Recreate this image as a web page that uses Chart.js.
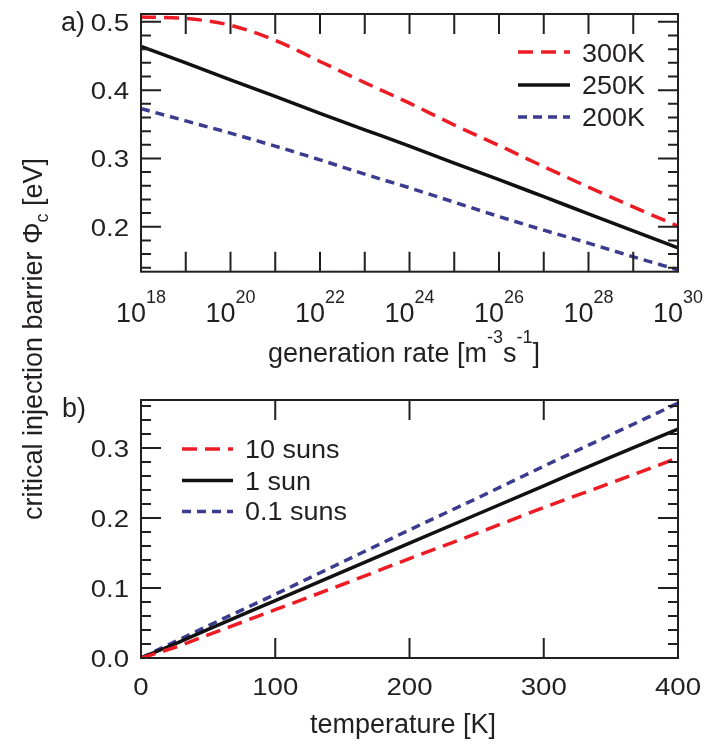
<!DOCTYPE html>
<html>
<head>
<meta charset="utf-8">
<script src="https://cdn.jsdelivr.net/npm/chart.js@4.4.1/dist/chart.umd.min.js"></script>
<style>
  html, body { margin: 0; padding: 0; background: #fff; }
  #wrap { position: relative; width: 705px; height: 749px; }
  canvas { position: absolute; left: 0; top: 0; }
</style>
</head>
<body>
<div id="wrap">
  <canvas id="chartA" width="705" height="749"></canvas>
  <canvas id="chartB" width="705" height="749"></canvas>
</div>
<script>
// --- panel a) data: barrier vs generation rate ---
const genRate = [1e18, 1e19, 1e20, 1e21, 1e22, 1e23, 1e24, 1e25, 1e26, 1e27, 1e28, 1e29, 1e30];
const phi300K = [0.507, 0.505, 0.495, 0.473, 0.442, 0.411, 0.381, 0.349, 0.319, 0.288, 0.258, 0.229, 0.201];
const phi250K = [0.464, 0.440, 0.415, 0.391, 0.366, 0.342, 0.318, 0.293, 0.269, 0.244, 0.219, 0.194, 0.169];
const phi200K = [0.373, 0.355, 0.337, 0.318, 0.298, 0.277, 0.257, 0.236, 0.215, 0.195, 0.176, 0.156, 0.137];
const genTickExp = [18, 19, 20, 21, 22, 23, 24, 25, 26, 27, 28, 29, 30];
const genLabelExp = [18, 20, 22, 24, 26, 28, 30];
const yLabelsA = [0.2, 0.3, 0.4, 0.5];

// --- panel b) data: barrier vs temperature ---
const temperature = [0, 25, 50, 100, 150, 200, 250, 300, 350, 400];
const phi10suns = [0, 0.015, 0.033, 0.069, 0.105, 0.142, 0.178, 0.215, 0.250, 0.286];
const phi1sun = [0, 0.020, 0.041, 0.082, 0.123, 0.164, 0.205, 0.246, 0.287, 0.327];
const phi01suns = [0, 0.023, 0.046, 0.091, 0.137, 0.183, 0.228, 0.274, 0.319, 0.364];
const tempTicks = [0, 100, 200, 300, 400];
const yLabelsB = [0.0, 0.1, 0.2, 0.3];

const FONT = '"Liberation Sans", Arial, Helvetica, sans-serif';
const INK = '#231f20';
const RED = '#ed1c24';
const BLUE = '#3b3b8f';
const BLACK = '#111111';

// text with optional horizontal stretch
function drawText(ctx, s, x, y, size, align, sx) {
  sx = sx || 1;
  ctx.font = size + 'px ' + FONT;
  const w = ctx.measureText(s).width * sx;
  const x0 = align === 'center' ? x - w / 2 : (align === 'right' ? x - w : x);
  ctx.save();
  ctx.translate(x0, y);
  ctx.scale(sx, 1);
  ctx.textAlign = 'left';
  ctx.textBaseline = 'alphabetic';
  ctx.fillText(s, 0, 0);
  ctx.restore();
  return w;
}

// parts: [text, kind]  kind: 0 normal, 1 sup, 2 sub
function drawRich(ctx, parts, x, y, size, smallSize, rise, drop, align) {
  let total = 0;
  parts.forEach(p => {
    ctx.font = (p[1] ? smallSize : size) + 'px ' + FONT;
    total += ctx.measureText(p[0]).width;
  });
  let cx = align === 'center' ? x - total / 2 : x;
  ctx.textAlign = 'left';
  ctx.textBaseline = 'alphabetic';
  parts.forEach(p => {
    ctx.font = (p[1] ? smallSize : size) + 'px ' + FONT;
    const yy = p[1] === 1 ? y - rise : (p[1] === 2 ? y + drop : y);
    ctx.fillText(p[0], cx, yy);
    cx += ctx.measureText(p[0]).width;
  });
}

function frameAndTicks(chart, xTicks, xLen, yMin, yMax, yStep, yMajorEvery) {
  const ctx = chart.ctx, a = chart.chartArea;
  const xs = chart.scales.x, ys = chart.scales.y;
  ctx.save();
  ctx.strokeStyle = INK;
  ctx.lineWidth = 2;
  ctx.strokeRect(a.left, a.top, a.right - a.left, a.bottom - a.top);
  ctx.beginPath();
  xTicks.forEach(v => {
    const px = xs.getPixelForValue(v);
    ctx.moveTo(px, a.bottom); ctx.lineTo(px, a.bottom - xLen);
    ctx.moveTo(px, a.top); ctx.lineTo(px, a.top + xLen);
  });
  const n = Math.round((yMax - yMin) / yStep);
  for (let i = 0; i <= n; i++) {
    const v = yMin + i * yStep;
    const py = ys.getPixelForValue(v);
    const len = (Math.round(v / yStep) % yMajorEvery === 0) ? 20 : 10;
    ctx.moveTo(a.left, py); ctx.lineTo(a.left + len, py);
    ctx.moveTo(a.right, py); ctx.lineTo(a.right - len, py);
  }
  ctx.stroke();
  ctx.restore();
}

function drawLegend(chart, lx1, lx2, tx, rows, baselines, size, sx) {
  const ctx = chart.ctx;
  chart.data.datasets.forEach((ds, i) => {
    ctx.save();
    ctx.strokeStyle = ds.borderColor;
    ctx.lineWidth = ds.borderWidth;
    ctx.setLineDash(ds.borderDash || []);
    ctx.beginPath();
    ctx.moveTo(lx1, rows[i]); ctx.lineTo(lx2, rows[i]);
    ctx.stroke();
    ctx.restore();
    ctx.fillStyle = INK;
    drawText(ctx, ds.label, tx, baselines[i], size, 'left', sx);
  });
}

const decorA = {
  id: 'decorA',
  afterDatasetsDraw(chart) {
    const ctx = chart.ctx, a = chart.chartArea;
    const xs = chart.scales.x, ys = chart.scales.y;
    frameAndTicks(chart, genTickExp.map(e => Number('1e' + e)), 20, 0.14, 0.50, 0.02, 5);
    ctx.fillStyle = INK;
    yLabelsA.forEach(v => {
      drawText(ctx, v.toFixed(1), 129, ys.getPixelForValue(v) + 9, 24, 'right', 1.15);
    });
    genLabelExp.forEach(e => {
      const px = xs.getPixelForValue(Number('1e' + e));
      drawRich(ctx, [['10', 0], [String(e), 1]], px, a.bottom + 50, 27, 18, 19, 0, 'center');
    });
    drawRich(ctx, [['generation rate [m', 0], ['-3', 1], ['s', 0], ['-1', 1], [']', 0]],
      404, 362, 27, 18, 19, 0, 'center');
    drawText(ctx, 'a)', 61, 31, 27, 'left');
    drawLegend(chart, 518, 570, 582, [52, 85, 117], [61.5, 94, 126], 25, 1.08);
    // shared y-axis title
    ctx.save();
    ctx.translate(42, 339);
    ctx.rotate(-Math.PI / 2);
    drawRich(ctx, [['critical injection barrier \u03A6', 0], ['c', 2], [' [eV]', 0]],
      0, 0, 27, 18, 0, 6, 'center');
    ctx.restore();
  }
};

const decorB = {
  id: 'decorB',
  afterDatasetsDraw(chart) {
    const ctx = chart.ctx, a = chart.chartArea;
    const xs = chart.scales.x, ys = chart.scales.y;
    frameAndTicks(chart, tempTicks, 20, 0, 0.36, 0.02, 5);
    ctx.fillStyle = INK;
    yLabelsB.forEach(v => {
      drawText(ctx, v.toFixed(1), 129, ys.getPixelForValue(v) + 9, 24, 'right', 1.15);
    });
    tempTicks.forEach(v => {
      drawText(ctx, String(v), xs.getPixelForValue(v), a.bottom + 37, 24, 'center', 1.15);
    });
    drawText(ctx, 'temperature [K]', 403, 733, 27, 'center');
    drawText(ctx, 'b)', 62, 417, 27, 'left');
    drawLegend(chart, 182, 233, 245, [449, 480.5, 511.5], [458, 490, 520], 25, 1.08);
  }
};

function lineSet(label, xs, ys, color, dash) {
  return {
    label: label,
    data: xs.map((x, i) => ({ x: x, y: ys[i] })),
    borderColor: color,
    borderWidth: 3.5,
    borderDash: dash,
    pointRadius: 0,
    fill: false,
    cubicInterpolationMode: 'monotone'
  };
}

function baseOptions(xScale, yMin, yMax, padTop, xHeight) {
  return {
    responsive: false,
    animation: false,
    events: [],
    layout: { padding: { top: padTop, right: 27, left: 0, bottom: 0 } },
    plugins: { legend: { display: false }, tooltip: { enabled: false } },
    scales: {
      x: Object.assign({
        grid: { display: false, drawTicks: false },
        border: { display: false },
        ticks: { display: false },
        afterFit(s) { s.height = xHeight; }
      }, xScale),
      y: {
        type: 'linear', min: yMin, max: yMax,
        grid: { display: false, drawTicks: false },
        border: { display: false },
        ticks: { display: false },
        afterFit(s) { s.width = 141; }
      }
    }
  };
}

new Chart(document.getElementById('chartA'), {
  type: 'line',
  data: {
    datasets: [
      lineSet('300K', genRate, phi300K, RED, [15, 8]),
      lineSet('250K', genRate, phi250K, BLACK, []),
      lineSet('200K', genRate, phi200K, BLUE, [9, 6])
    ]
  },
  options: baseOptions({ type: 'logarithmic', min: 1e18, max: 1e30 }, 0.1342, 0.5115, 14, 749 - 271.7),
  plugins: [decorA]
});

new Chart(document.getElementById('chartB'), {
  type: 'line',
  data: {
    datasets: [
      lineSet('10 suns', temperature, phi10suns, RED, [15, 8]),
      lineSet('1 sun', temperature, phi1sun, BLACK, []),
      lineSet('0.1 suns', temperature, phi01suns, BLUE, [9, 6])
    ]
  },
  options: baseOptions({ type: 'linear', min: 0, max: 400 }, 0, 0.3686, 400, 749 - 658),
  plugins: [decorB]
});
</script>
</body>
</html>
